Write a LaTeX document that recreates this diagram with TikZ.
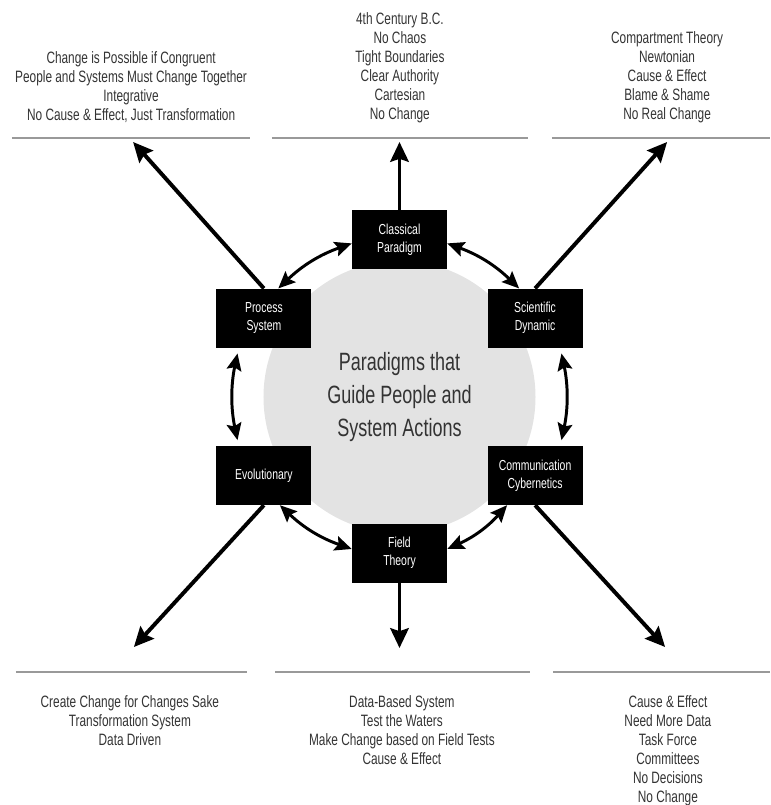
\documentclass[tikz,border=0pt]{standalone}
\usepackage{fontspec}
\setmainfont[FakeStretch=0.72]{Liberation Sans}
\usetikzlibrary{arrows.meta}

\begin{document}
\begin{tikzpicture}[
    paradigm/.style={fill=black, text=white, minimum width=2.375cm,
      minimum height=1.475cm, inner sep=0pt, align=center,
      font=\fontsize{10.3}{12.8}\selectfont},
    notes/.style={align=center, inner sep=0pt, text=black!80,
      font=\fontsize{11.7}{13.5}\selectfont},
    sepline/.style={black!40, line width=1.5pt},
    outward/.style={line width=2.8pt,
      -{Stealth[length=14pt, width=13pt, inset=2pt]}},
    link/.style={line width=2.1pt,
      {Stealth[length=12pt, width=10.5pt, inset=2pt]}-{Stealth[length=12pt, width=10.5pt, inset=2pt]},
      bend left=12}
  ]
  \useasboundingbox (-9.9875, -10.2) rectangle (9.2625, 9.925);

  % Centre
  \node [circle, fill=black!11, minimum size=6.8cm, inner sep=0pt,
    align=center, text=black!80, font=\fontsize{17.8}{23.8}\selectfont]
    (core) at (0, 0) {Paradigms that\\Guide People and\\System Actions};

  % Paradigms
  \node [paradigm] (classical) at (0, 3.94) {Classical\\Paradigm};
  \node [paradigm] (process) at (-3.39, 1.97) {Process\\System};
  \node [paradigm] (scientific) at (3.39, 1.97) {Scientific\\Dynamic};
  \node [paradigm] (evolutionary) at (-3.39, -1.96) {Evolutionary};
  \node [paradigm] (communication) at (3.39, -1.96) {Communication\\Cybernetics};
  \node [paradigm] (field) at (0, -3.9) {Field\\Theory};

  % Links round the circle
  \draw [link] ([xshift=0.36cm]process.north) to ([yshift=-0.1cm]classical.west);
  \draw [link] ([yshift=-0.1cm]classical.east) to ([xshift=-0.4cm]scientific.north);
  \draw [link, shorten <=4pt, shorten >=4pt]
        ([xshift=0.63cm]scientific.south) to ([xshift=0.63cm]communication.north);
  \draw [link] ([xshift=-0.7cm]communication.south) to ([yshift=0.1cm]field.east);
  \draw [link] ([yshift=0.1cm]field.west) to ([xshift=0.4cm]evolutionary.south);
  \draw [link, shorten <=4pt, shorten >=4pt]
        ([xshift=-0.63cm]evolutionary.north) to ([xshift=-0.63cm]process.south);

  % Arrows out
  \coordinate (processtip) at (-6.66, 6.375);
  \coordinate (classicaltip) at (0, 6.375);
  \coordinate (scientifictip) at (6.69, 6.375);
  \coordinate (evolutionarytip) at (-6.64, -6.25);
  \coordinate (fieldtip) at (0, -6.275);
  \coordinate (communicationtip) at (6.64, -6.25);
  \draw [outward] (process.north) -- (processtip);
  \draw [outward] (classical.north) -- (classicaltip);
  \draw [outward] (scientific.north) -- (scientifictip);
  \draw [outward] (evolutionary.south) -- (evolutionarytip);
  \draw [outward] (field.south) -- (fieldtip);
  \draw [outward] (communication.south) -- (communicationtip);

  % Top notes
  \draw [sepline] (-9.69, 6.475) -- (-3.74, 6.475);
  \draw [sepline] (-3.19, 6.475) -- (3.21, 6.475);
  \draw [sepline] (3.81, 6.475) -- (9.26, 6.475);
  \node [notes, anchor=south] (processnotes) at (-6.71, 6.85)
    {Change is Possible if Congruent\\People and Systems Must Change Together\\
     Integrative\\No Cause \& Effect, Just Transformation};
  \node [notes, anchor=south] (classicalnotes) at (0.01, 6.85)
    {4th Century B.C.\\No Chaos\\Tight Boundaries\\Clear Authority\\
     Cartesian\\No Change};
  \node [notes, anchor=south] (scientificnotes) at (6.69, 6.85)
    {Compartment Theory\\Newtonian\\Cause \& Effect\\Blame \& Shame\\
     No Real Change};

  % Bottom notes
  \draw [sepline] (-9.59, -6.875) -- (-3.81, -6.875);
  \draw [sepline] (-3.11, -6.875) -- (3.26, -6.875);
  \draw [sepline] (3.84, -6.875) -- (9.26, -6.875);
  \node [notes, anchor=north] (evolutionarynotes) at (-6.74, -7.45)
    {Create Change for Changes Sake\\Transformation System\\Data Driven};
  \node [notes, anchor=north] (fieldnotes) at (0.06, -7.45)
    {Data-Based System\\Test the Waters\\Make Change based on Field Tests\\
     Cause \& Effect};
  \node [notes, anchor=north] (communicationnotes) at (6.71, -7.45)
    {Cause \& Effect\\Need More Data\\Task Force\\Committees\\
     No Decisions\\No Change};
\end{tikzpicture}
\end{document}
